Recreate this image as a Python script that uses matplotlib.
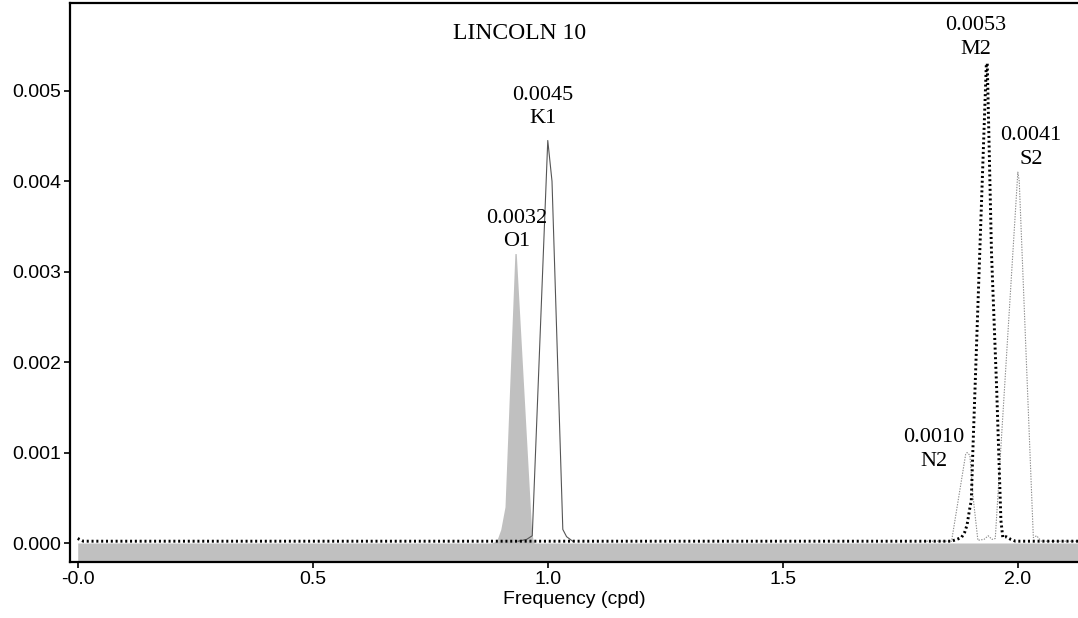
import matplotlib
matplotlib.use("Agg")
import matplotlib.pyplot as plt

# ---- data ----
o1_freq = [0.0, 0.880, 0.891, 0.900, 0.909, 0.930, 0.933, 0.966, 0.971, 2.13]
o1_amp = [0.0, 0.0, 0.00002, 0.00015, 0.0004, 0.0032, 0.0032, 0.0001, 0.0, 0.0]

k1_freq = [0.937, 0.955, 0.967, 1.000, 1.009, 1.032, 1.040, 1.053]
k1_amp = [0.00002, 0.00004, 0.00008, 0.00445, 0.0040, 0.00015, 0.00007, 0.00002]

m2_freq = [0.0, 0.012, 1.859, 1.870, 1.880, 1.887, 1.892, 1.897, 1.901, 1.904,
           1.933, 1.935, 1.944, 1.955, 1.964, 1.968, 1.975, 1.985, 1.995, 2.13]
m2_amp = [0.00005, 0.00002, 0.00002, 0.00004, 0.00006, 0.00012, 0.0002, 0.00036,
          0.00047, 0.00097, 0.0053, 0.0053, 0.0032, 0.0017, 0.00025, 0.00006,
          0.00007, 0.00004, 0.00002, 0.00002]

ns_freq = [1.80, 1.859, 1.889, 1.892, 1.898, 1.905, 1.915, 1.928, 1.937, 1.945,
           1.952, 2.000, 2.003, 2.033, 2.040, 2.050, 2.13]
ns_amp = [0.00002, 0.00002, 0.00098, 0.0010, 0.00097, 0.0005, 0.00003, 0.00004,
          0.00008, 0.00004, 0.00005, 0.0041, 0.0040, 0.00006, 0.00008, 0.00002, 0.00002]

labels = ["0.0045\nK1", "0.0032\nO1", "0.0053\nM2", "0.0041\nS2", "0.0010\nN2"]
label_x = [0.990, 0.933, 1.910, 2.028, 1.822]
label_y = [0.00482, 0.00346, 0.00559, 0.00437, 0.00103]

title = "LINCOLN 10"
x_ticks = [0.0, 0.5, 1.0, 1.5, 2.0]
x_tick_labels = ["-0.0", "0.5", "1.0", "1.5", "2.0"]
y_ticks = [0.0, 0.001, 0.002, 0.003, 0.004, 0.005]
y_tick_labels = ["0.000", "0.001", "0.002", "0.003", "0.004", "0.005"]

# ---- figure ----
fig = plt.figure(figsize=(10.78, 6.18), dpi=100)
ax = fig.add_axes([70 / 1078, 1 - 562 / 618, 1 - 70 / 1078, (562 - 3) / 618])
ymin, ymax = -0.00021, 0.00597
ax.set_xlim(-0.0164, 2.128)
ax.set_ylim(ymin, ymax)

ax.fill_between(o1_freq, ymin, o1_amp, color="#c0c0c0", lw=0, zorder=1)
ax.plot(k1_freq, k1_amp, color="#555555", lw=0.8, zorder=2)
ax.plot(ns_freq, ns_amp, color="#8c8c8c", lw=0.8, ls=(0, (1.2, 1.2)), zorder=3)
ax.plot(m2_freq, m2_amp, color="black", lw=2.1, ls=(0, (0.7, 0.95)), zorder=4)

serif = ["Liberation Serif", "DejaVu Serif"]
for t, x, y in zip(labels, label_x, label_y):
    ax.text(x, y, t, ha="center", va="center", multialignment="center",
            family=serif, fontsize=16, linespacing=1.35, zorder=5)
ax.text(0.939, 0.00563, title, ha="center", va="center", family=serif, fontsize=17)

ax.set_xticks(x_ticks)
ax.set_xticklabels(x_tick_labels)
ax.set_yticks(y_ticks)
ax.set_yticklabels(y_tick_labels)
for lab in ax.get_xticklabels() + ax.get_yticklabels():
    lab.set_family("Liberation Sans")
    lab.set_fontsize(14)
ax.tick_params(direction="out", length=4, width=1.2, pad=2.5, colors="black")
ax.set_xlabel("Frequency (cpd)", family="Liberation Sans", fontsize=14, labelpad=2)

for s in ["left", "bottom", "top"]:
    ax.spines[s].set_linewidth(1.6)
ax.spines["right"].set_visible(False)

fig.savefig("out.png", dpi=100)
